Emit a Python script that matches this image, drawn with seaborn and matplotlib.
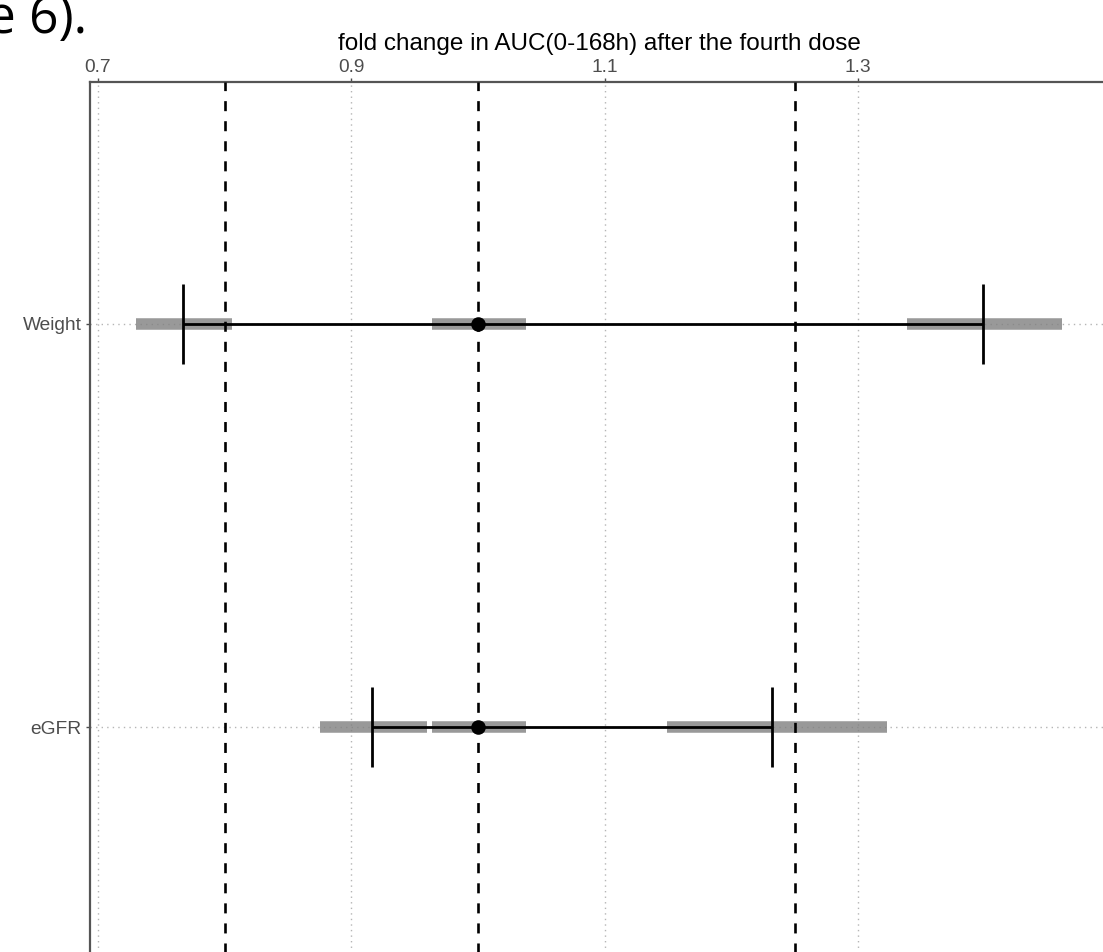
import numpy as np
import pandas as pd
import matplotlib
matplotlib.use('Agg')
from matplotlib import pyplot as plt
import seaborn as sns

# values (fold change in AUC)
covariates = ['Weight', 'eGFR']
point_est = [1.0, 1.0]
ci_low = [0.767, 0.916]
ci_high = [1.399, 1.232]
band_low_start = [0.730, 0.875]
band_low_end = [0.806, 0.960]
band_mid_start = [0.964, 0.964]
band_mid_end = [1.038, 1.038]
band_high_start = [1.339, 1.149]
band_high_end = [1.461, 1.323]
ref_lines = [0.8, 1.0, 1.25]
x_ticks = [0.7, 0.9, 1.1, 1.3]

df = pd.DataFrame({'covariate': covariates, 'est': point_est,
                   'lo': ci_low, 'hi': ci_high})
df['ypos'] = np.arange(len(df))

sns.set_theme(style='white')
plt.rcParams['font.family'] = ['Liberation Sans', 'DejaVu Sans']

fig = plt.figure(figsize=(11.03, 9.52), dpi=100)
ax = fig.add_axes([0.0816, -0.0179, 0.9229, 0.9317])

grid_kw = dict(color='#b5b5b5', lw=1.0, ls=(0, (1, 3)), zorder=0)
for xt in x_ticks:
    ax.axvline(xt, **grid_kw)
for yp in df['ypos']:
    ax.axhline(yp, **grid_kw)

band_kw = dict(color='#808080', alpha=0.8, lw=8.3, capstyle='butt', zorder=2)
ax.hlines(df['ypos'], band_low_start, band_low_end, **band_kw)
ax.hlines(df['ypos'], band_mid_start, band_mid_end, **band_kw)
ax.hlines(df['ypos'], band_high_start, band_high_end, **band_kw)

ax.hlines(df['ypos'], df['lo'], df['hi'], color='black', lw=2, zorder=3)

for xv in ref_lines:
    ax.axvline(xv, color='black', lw=1.9, ls=(0, (3.8, 3.8)), zorder=4)

ax.vlines(df['lo'], df['ypos'] - 0.1, df['ypos'] + 0.1, color='black', lw=2, zorder=5)
ax.vlines(df['hi'], df['ypos'] - 0.1, df['ypos'] + 0.1, color='black', lw=2, zorder=5)

sns.scatterplot(data=df, x='est', y='ypos', color='black', s=110,
                edgecolor='black', linewidth=0, zorder=6, ax=ax, legend=False)

ax.set_xlim(0.6937, 1.4975)
ax.set_ylim(1.6, -0.6)
ax.set_xticks(x_ticks)
ax.set_xticklabels([f'{t:.1f}' for t in x_ticks])
ax.set_yticks(df['ypos'])
ax.set_yticklabels(df['covariate'])

ax.xaxis.tick_top()
ax.xaxis.set_label_position('top')
ax.set_xlabel('fold change in AUC(0-168h) after the fourth dose',
              fontsize=17.5, color='black', labelpad=7)
ax.set_ylabel('')
ax.tick_params(axis='both', which='major', length=3.2, width=1,
               color='#4d4d4d', labelcolor='#4d4d4d', labelsize=13.8)
ax.tick_params(axis='x', top=True, bottom=False, labeltop=True,
               labelbottom=False, pad=1)
ax.tick_params(axis='y', left=True, pad=3)

for sp in ax.spines.values():
    sp.set_visible(True)
    sp.set_color('#555555')
    sp.set_linewidth(1.6)

fig.text(0.0789, 1 - 33 / 952, 'e 6).', ha='right', va='baseline',
         fontsize=37, family=['Open Sans', 'DejaVu Sans'], color='black')

fig.savefig('out.png', dpi=100)
